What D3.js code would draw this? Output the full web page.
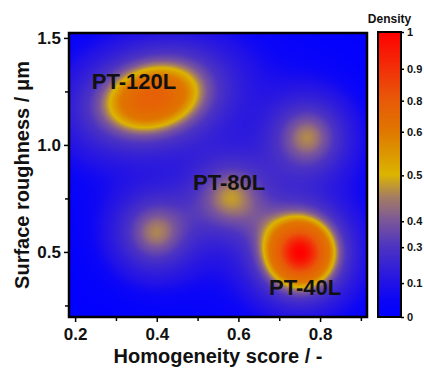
<!DOCTYPE html>
<html>
<head>
<meta charset="utf-8">
<script src="https://cdn.jsdelivr.net/npm/d3@7/dist/d3.min.js"></script>
<style>
  body { margin: 0; background: #fff; }
  text { font-family: "Liberation Sans", Arial, sans-serif; font-weight: bold; }
</style>
</head>
<body>
<div id="chart"></div>
<script>
// density peaks: centre (homogeneity, roughness), height, spread, tilt
const peakX = [0.752, 0.390, 0.771, 0.580, 0.396]
const peakY = [0.495, 1.222, 1.037, 0.757, 0.589]
const peakH = [1.00, 0.77, 0.44, 0.42, 0.44]
const peakSX = [0.068, 0.110, 0.066, 0.068, 0.066]
const peakSY = [0.130, 0.145, 0.125, 0.128, 0.125]
const peakRho = [0, 0.2, 0, 0, 0]

const xTicks = [0.2, 0.4, 0.6, 0.8]
const xMinor = [0.3, 0.5, 0.7, 0.9]
const yTicks = [0.5, 1.0, 1.5]
const yMinor = [0.25, 0.75, 1.25]

// colour bar levels (Origin style, non uniform)
const cbTicks = [0, 0.1, 0.3, 0.4, 0.5, 0.6, 0.8, 0.9, 1]
const cbLevels = [0, 0.119, 0.245, 0.336, 0.497, 0.65, 0.759, 0.871, 1]
const stopPos = [0, 0.06, 0.12, 0.25, 0.34, 0.42, 0.5, 0.58, 0.66, 0.76, 0.87, 1]
const stopColors = ['#0000ff', '#0c06f6', '#2212e6', '#4e34c0', '#7c5898', '#a47c64', '#dcb400',
  '#dc9400', '#e07400', '#e85a08', '#f23008', '#ff0000']

const labels = ['PT-120L', 'PT-80L', 'PT-40L']
const labelX = [0.241, 0.489, 0.675]
const labelY = [1.261, 0.789, 0.299]

const margin = { top: 33, right: 57, bottom: 55, left: 69 }
const width = 424 - margin.left - margin.right
const height = 372 - margin.top - margin.bottom

const x = d3.scaleLinear().domain([0.185, 0.915]).range([0, width])
const y = d3.scaleLinear().domain([0.196, 1.523]).range([height, 0])

const cbFrac = d3.scaleLinear().domain(cbTicks).range(cbLevels).clamp(true)
const ramp = d3.scaleLinear().domain(stopPos).range(stopColors).interpolate(d3.interpolateRgb)
const colorOf = v => ramp(cbFrac(v))

const svg = d3.select('#chart')
  .append('svg')
  .attr('width', 424)
  .attr('height', 372)

const g = svg.append('g')
  .attr('transform', 'translate(' + margin.left + ',' + margin.top + ')')

// density field drawn to a canvas, then placed as an image
const canvas = document.createElement('canvas')
canvas.width = width
canvas.height = height
const ctx = canvas.getContext('2d')
const img = ctx.createImageData(width, height)
const field = new Float64Array(width * height)
let max = 0
for (let j = 0; j < height; j++) {
  const yv = y.invert(j + 0.5)
  for (let i = 0; i < width; i++) {
    const xv = x.invert(i + 0.5)
    let v = 0
    for (let k = 0; k < peakX.length; k++) {
      const dx = (xv - peakX[k]) / peakSX[k]
      const dy = (yv - peakY[k]) / peakSY[k]
      const r = peakRho[k]
      const q = (dx * dx - 2 * r * dx * dy + dy * dy) / (1 - r * r)
      // core plus a faint wider halo
      v += peakH[k] * (0.9 * Math.exp(-q / 2) + 0.1 * Math.exp(-q / 8))
    }
    field[j * width + i] = v
    if (v > max) max = v
  }
}
for (let p = 0; p < field.length; p++) {
  const c = d3.rgb(colorOf(field[p] / max))
  img.data[p * 4] = c.r
  img.data[p * 4 + 1] = c.g
  img.data[p * 4 + 2] = c.b
  img.data[p * 4 + 3] = 255
}
ctx.putImageData(img, 0, 0)

g.append('image')
  .attr('width', width)
  .attr('height', height)
  .attr('preserveAspectRatio', 'none')
  .attr('href', canvas.toDataURL())

// cluster labels
g.selectAll('.lab')
  .data(labels)
  .enter().append('text')
  .attr('class', 'lab')
  .attr('x', (d, i) => x(labelX[i]))
  .attr('y', (d, i) => y(labelY[i]))
  .style('font-size', '22px')
  .style('fill', '#111')
  .text(d => d)

// axes
g.append('g')
  .attr('transform', 'translate(0,' + height + ')')
  .call(d3.axisBottom(x).tickValues(xTicks).tickFormat(d3.format('.1f')).tickSize(5).tickPadding(6))
g.append('g')
  .attr('transform', 'translate(0,' + height + ')')
  .call(d3.axisBottom(x).tickValues(xMinor).tickFormat('').tickSize(4))
g.append('g')
  .call(d3.axisLeft(y).tickValues(yTicks).tickFormat(d3.format('.1f')).tickSize(5).tickPadding(3))
g.append('g')
  .call(d3.axisLeft(y).tickValues(yMinor).tickFormat('').tickSize(4))

g.selectAll('.domain').remove()
g.selectAll('.tick line').attr('stroke', '#000').attr('stroke-width', 1.5)
g.selectAll('.tick text').style('font-size', '17px').style('fill', '#111')

g.append('rect')
  .attr('width', width)
  .attr('height', height)
  .attr('fill', 'none')
  .attr('stroke', '#000')
  .attr('stroke-width', 2.5)

// axis titles
svg.append('text')
  .attr('x', margin.left + width / 2)
  .attr('y', 363)
  .attr('text-anchor', 'middle')
  .style('font-size', '20px')
  .style('fill', '#111')
  .text('Homogeneity score / -')

svg.append('text')
  .attr('transform', 'translate(29,' + (margin.top + height / 2) + ') rotate(-90)')
  .attr('text-anchor', 'middle')
  .style('font-size', '20px')
  .style('fill', '#111')
  .text('Surface roughness / μm')

// colour bar
const cbLeft = 378, cbWidth = 23
const cbTop = margin.top - 1, cbBottom = margin.top + height
const cbY = d3.scaleLinear().domain(cbTicks)
  .range(cbLevels.map(f => cbBottom - f * (cbBottom - cbTop)))

const grad = svg.append('defs').append('linearGradient')
  .attr('id', 'cbgrad')
  .attr('x1', 0).attr('y1', 1).attr('x2', 0).attr('y2', 0)
grad.selectAll('stop')
  .data(stopPos)
  .enter().append('stop')
  .attr('offset', d => d)
  .attr('stop-color', (d, i) => stopColors[i])

svg.append('rect')
  .attr('x', cbLeft)
  .attr('y', cbTop)
  .attr('width', cbWidth)
  .attr('height', cbBottom - cbTop)
  .attr('fill', 'url(#cbgrad)')
  .attr('stroke', '#000')
  .attr('stroke-width', 2)

const cbAxis = svg.append('g')
  .attr('transform', 'translate(' + (cbLeft + cbWidth) + ',0)')
  .call(d3.axisRight(cbY).tickValues(cbTicks).tickFormat(d => d).tickSize(3).tickPadding(3))
cbAxis.select('.domain').remove()
cbAxis.selectAll('.tick line').attr('stroke', '#000').attr('stroke-width', 1.5)
cbAxis.selectAll('.tick text').style('font-size', '11px').style('fill', '#111')

svg.append('text')
  .attr('x', cbLeft + cbWidth / 2)
  .attr('y', 23)
  .attr('text-anchor', 'middle')
  .style('font-size', '12px')
  .style('fill', '#111')
  .text('Density')
</script>
</body>
</html>
